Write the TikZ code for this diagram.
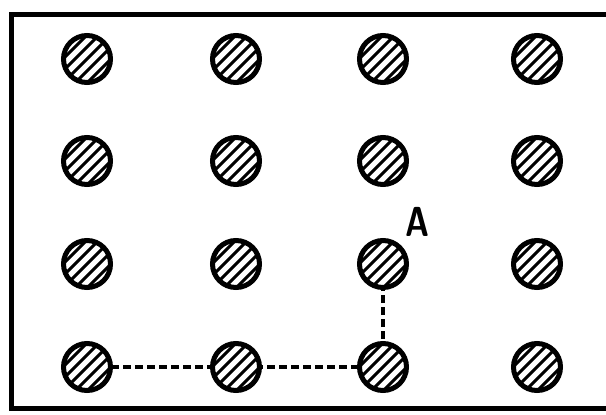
\documentclass[tikz,border=0pt]{standalone}
\usepackage{tikz}

\tikzset{
  disc/.style={draw, circle, line width=5pt, minimum size=47pt, inner sep=0pt, fill=white,
    path picture={
      \foreach \d in {-36,-24,...,36}
        \draw[line width=3pt] ([shift={(\d-30,30)}]path picture bounding box.center) -- ++(60,-60);
    }},
  route/.style={line width=3.2pt, dash pattern=on 8pt off 4pt}
}

\begin{document}
\begin{tikzpicture}[x=1pt,y=-1pt]
\useasboundingbox (0,0) rectangle (606,415);
\clip (0,0) rectangle (606,415);
\draw[line width=5pt] (620,14) -- (11,14) -- (11,408) -- (620,408);
% dashed route first, discs on top
\coordinate (r1) at (87,367);
\coordinate (r2) at (236,367);
\coordinate (r3) at (383,367);
\coordinate (r4) at (383,264);
\draw[route] (r1) -- (r2) -- (r3) -- (r4);
\node[disc] (c11) at (87,59){};
\node[disc] (c12) at (236,59){};
\node[disc] (c13) at (383,59){};
\node[disc] (c14) at (537,59){};
\node[disc] (c21) at (87,161){};
\node[disc] (c22) at (236,161){};
\node[disc] (c23) at (383,161){};
\node[disc] (c24) at (537,161){};
\node[disc] (c31) at (87,264){};
\node[disc] (c32) at (236,264){};
\node[disc] (c33) at (383,264){};
\node[disc] (c34) at (537,264){};
\node[disc] (c41) at (87,367){};
\node[disc] (c42) at (236,367){};
\node[disc] (c43) at (383,367){};
\node[disc] (c44) at (537,367){};
\node[font=\fontsize{42}{44}\selectfont\sffamily\bfseries, inner sep=0pt] (lblA) at (418,222){\scalebox{0.78}[1]{A}};
\end{tikzpicture}
\end{document}
